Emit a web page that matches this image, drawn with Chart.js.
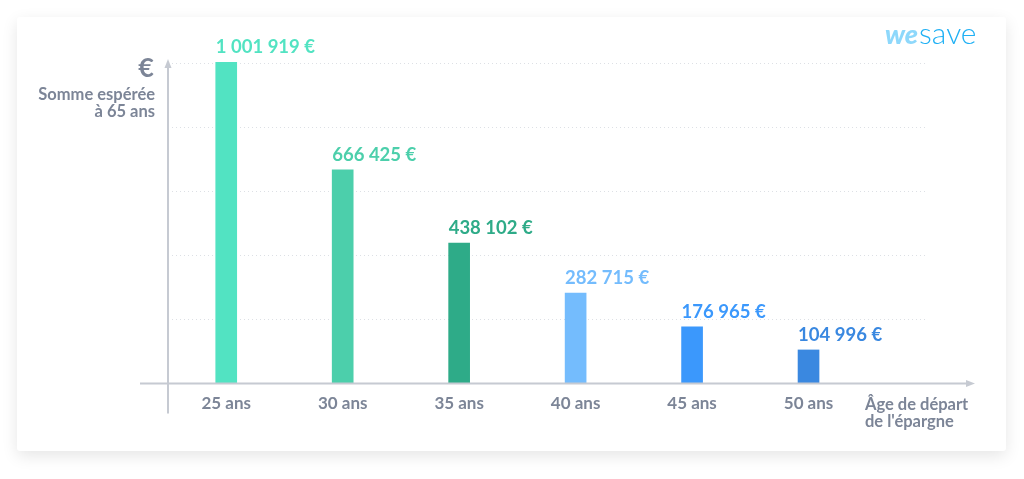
<!doctype html>
<html lang="fr">
  <head>
    <meta charset="utf-8">
    <title>Somme espérée à 65 ans</title>
    <style>
      * {
        margin: 0;
        padding: 0;
      }
      body {
        width: 1024px;
        height: 479px;
        background: #ffffff;
        overflow: hidden;
      }
      .chartCard {
        position: absolute;
        left: 17px;
        top: 17px;
        width: 989px;
        height: 434px;
        background: #ffffff;
        border-radius: 3px;
        box-shadow: 0 5px 16px rgba(0, 0, 0, 0.10);
      }
    </style>
  </head>
  <body>
    <div class="chartCard">
      <canvas id="myChart"></canvas>
    </div>

    <script src="https://cdn.jsdelivr.net/npm/chart.js@4.2.0/dist/chart.umd.min.js"></script>

    <script>
    // data block
    const ages = [25, 30, 35, 40, 45, 50];
    const tickLabels = ['25 ans', '30 ans', '35 ans', '40 ans', '45 ans', '50 ans'];
    const valueLabels = ['1 001 919 €', '666 425 €', '438 102 €', '282 715 €', '176 965 €', '104 996 €'];
    const sums = [1001919, 666425, 438102, 282715, 176965, 104996];
    const barColors = ['#52e3c2', '#4ccfab', '#2eab88', '#74bcfd', '#3b98fc', '#3a88e0'];

    const axisColor = '#c6cad2';
    const textGray = '#7c8597';

    const data = {
      datasets: [{
        data: ages.map((a, i) => ({ x: a, y: sums[i] })),
        backgroundColor: barColors,
        borderWidth: 0,
        barThickness: 21,
        clip: false
      }]
    };

    // axes, labels and logo plugin block
    const decor = {
      id: 'decor',
      afterDatasetsDraw: ((chart) => {
        const { ctx, chartArea: { top, bottom, left, right } } = chart;
        ctx.save();

        // axes with arrows
        ctx.strokeStyle = axisColor;
        ctx.fillStyle = axisColor;
        ctx.lineWidth = 2;
        ctx.beginPath();
        ctx.moveTo(left, bottom + 30);
        ctx.lineTo(left, top + 2);
        ctx.moveTo(left - 28, bottom);
        ctx.lineTo(right + 44, bottom);
        ctx.stroke();
        ctx.beginPath();
        ctx.moveTo(left, top - 4);
        ctx.lineTo(left - 3.5, top + 5);
        ctx.lineTo(left + 3.5, top + 5);
        ctx.fill();
        ctx.beginPath();
        ctx.moveTo(right + 50, bottom);
        ctx.lineTo(right + 41, bottom - 3.5);
        ctx.lineTo(right + 41, bottom + 3.5);
        ctx.fill();

        // value labels above bars
        const meta = chart.getDatasetMeta(0);
        ctx.font = 'bold 18.5px Lato';
        ctx.textAlign = 'left';
        ctx.textBaseline = 'alphabetic';
        meta.data.forEach((bar, i) => {
          ctx.fillStyle = barColors[i];
          ctx.fillText(valueLabels[i], bar.x - bar.width / 2, bar.y - 9);
        });

        // y axis title
        ctx.fillStyle = textGray;
        ctx.textAlign = 'right';
        ctx.font = 'bold 27px Lato';
        ctx.fillText('€', left - 14, top + 14);
        ctx.font = 'bold 16.5px Lato';
        ctx.fillText('Somme espérée', left - 13, top + 37);
        ctx.fillText('à 65 ans', left - 13, top + 54);

        // x axis title
        ctx.textAlign = 'left';
        ctx.font = 'bold 16.5px Lato';
        ctx.fillText('Âge de départ', right - 60, bottom + 26);
        ctx.fillText('de l\'épargne', right - 60, bottom + 43);

        // logo
        ctx.font = 'italic 900 27px Lato';
        ctx.fillStyle = '#8ed8fb';
        ctx.fillText('we', 868, 27);
        const w = ctx.measureText('we').width;
        ctx.font = '300 30px Lato';
        ctx.fillStyle = '#1fb0f4';
        ctx.fillText('save', 868 + w + 1, 27);

        ctx.restore();
      })
    };

    // config block
    const config = {
      type: 'bar',
      data: data,
      options: {
        responsive: true,
        maintainAspectRatio: false,
        animation: false,
        layout: {
          padding: { top: 46, left: 151, right: 81, bottom: 27 }
        },
        plugins: {
          legend: { display: false },
          tooltip: { enabled: false }
        },
        scales: {
          x: {
            type: 'linear',
            min: 22.5,
            max: 55,
            offset: false,
            grid: { display: false, drawTicks: false },
            border: { display: false },
            afterBuildTicks: (scale) => {
              scale.ticks = ages.map(a => ({ value: a }));
            },
            ticks: {
              padding: 10,
              color: textGray,
              font: { family: 'Lato', size: 17, weight: 'bold' },
              callback: (value) => tickLabels[ages.indexOf(value)]
            }
          },
          y: {
            min: 0,
            max: 1000000,
            ticks: { display: false, stepSize: 200000 },
            grid: { color: '#dde0e5', drawTicks: false },
            border: { display: false, dash: [1, 3] }
          }
        }
      },
      plugins: [decor]
    };

    // init render block
    const myChart = new Chart(
      document.getElementById('myChart'),
      config
    );
    </script>
  </body>
</html>
